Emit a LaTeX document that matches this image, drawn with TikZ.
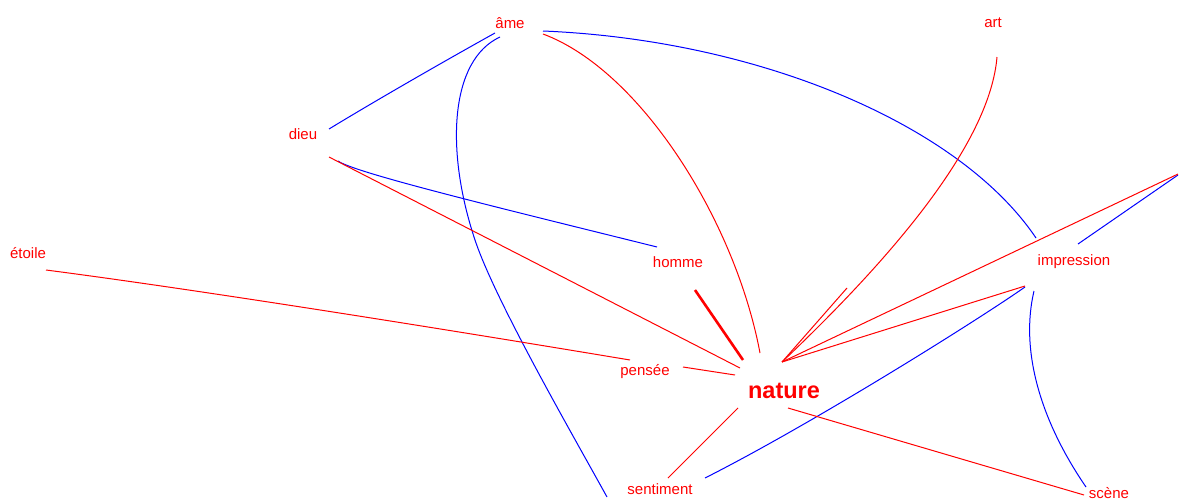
\documentclass[tikz,border=0pt]{standalone}
\usepackage{fontspec}
\setmainfont{Liberation Sans}
\begin{document}
\begin{tikzpicture}[x=1pt,y=-1pt,
  word/.style={text=red,inner sep=0pt,font=\fontsize{15}{15}\selectfont},
  bigword/.style={text=red,inner sep=0pt,font=\fontsize{23.5}{24}\selectfont\bfseries},
  rl/.style={draw=red,line width=1pt},
  bl/.style={draw=blue,line width=1pt},
  thick red/.style={draw=red,line width=2.6pt}]
\useasboundingbox[fill=white] (0,0) rectangle (1179,501);

% labels
\node[word] (ame) at (510,23) {âme};
\node[word] (art) at (993,23) {art};
\node[word] (dieu) at (303,134) {dieu};
\node[word] (etoile) at (28,253) {étoile};
\node[word] (homme) at (678,262) {homme};
\node[word] (impression) at (1074,262) {impression};
\node[word] (pensee) at (645,372) {pensée};
\node[bigword] (nature) at (784,391) {nature};
\node[word] (sentiment) at (660,489) {sentiment};
\node[word] (scene) at (1109,493) {scène};

% end points of connectors
\coordinate (dA) at (329,129);
\coordinate (aD) at (495,33);
\coordinate (aL) at (500,37);
\coordinate (bot) at (607,497);
\coordinate (mid) at (475,240);
\coordinate (aI) at (543,31);
\coordinate (iA) at (1036,238);
\coordinate (dH) at (338,161);
\coordinate (hD) at (657,247);
\coordinate (iR) at (1078,244);
\coordinate (edge) at (1178,175);
\coordinate (iS) at (1025,287);
\coordinate (sI) at (705,478);
\coordinate (iSc) at (1034,291);
\coordinate (scI) at (1086,487);

\coordinate (aN) at (543,34);
\coordinate (nA) at (760,353);
\coordinate (artN) at (997,57);
\coordinate (nHub) at (782,362);
\coordinate (dN) at (329,157);
\coordinate (nD) at (740,368);
\coordinate (eP) at (46,270);
\coordinate (pE) at (630,360);
\coordinate (pN) at (683,367);
\coordinate (nP) at (735,375);
\coordinate (hN) at (695,290);
\coordinate (nH) at (743,360);
\coordinate (short) at (847,288);
\coordinate (edgeR) at (1178,174);
\coordinate (iN) at (1025,286);
\coordinate (nSe) at (738,408);
\coordinate (seN) at (668,478);
\coordinate (nSc) at (788,408);
\coordinate (scN) at (1084,495);

% blue connectors
\draw[bl] (dA) .. controls (380,98) and (450,58) .. (aD);
\draw[bl] (aL) .. controls (450,60) and (445,150) .. (mid)
               .. controls (495,300) and (570,430) .. (bot);
\draw[bl] (aI) .. controls (760,40) and (960,125) .. (iA);
\draw[bl] (dH) .. controls (355,173) and (500,208) .. (hD);
\draw[bl] (iR) -- (edge);
\draw[bl] (iS) .. controls (975,322) and (810,425) .. (sI);
\draw[bl] (iSc) .. controls (1020,350) and (1040,420) .. (scI);

% red connectors
\draw[rl] (aN) .. controls (640,70) and (735,220) .. (nA);
\draw[rl] (artN) .. controls (990,140) and (900,250) .. (nHub);
\draw[rl] (dN) -- (nD);
\draw[rl] (eP) .. controls (200,290) and (450,330) .. (pE);
\draw[rl] (pN) -- (nP);
\draw[thick red] (hN) -- (nH);
\draw[rl] (nHub) -- (short);
\draw[rl] (nHub) -- (edgeR);
\draw[rl] (nHub) -- (iN);
\draw[rl] (nSe) -- (seN);
\draw[rl] (nSc) -- (scN);
\end{tikzpicture}
\end{document}
